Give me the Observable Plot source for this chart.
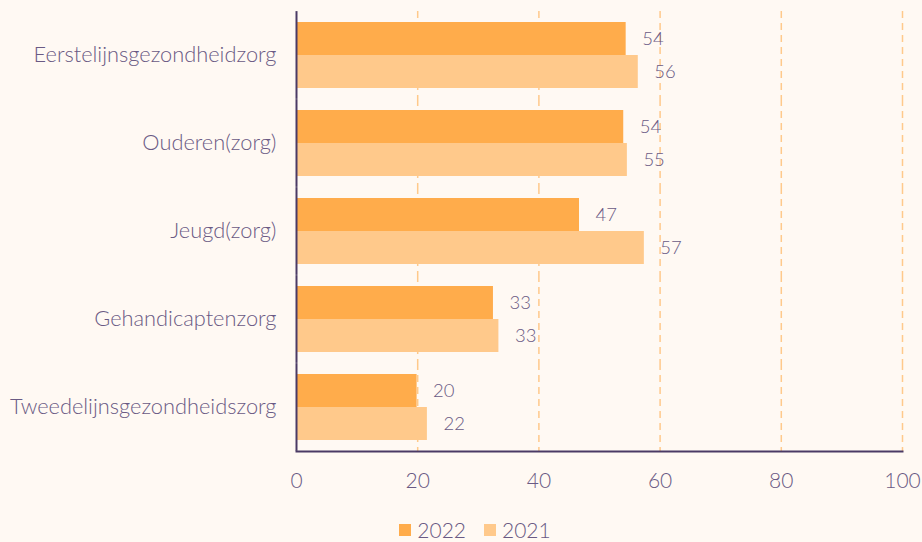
<!DOCTYPE html>
<html><head><meta charset="utf-8">
<script src="https://cdn.jsdelivr.net/npm/d3@7"></script>
<script src="https://cdn.jsdelivr.net/npm/@observablehq/plot@0.6"></script>
<style>
html,body{margin:0;padding:0;background:#fff9f3;font-family:Lato,sans-serif;overflow:hidden;}
#chart svg{display:block;}
#chart svg text{font-weight:300;}
#legend{display:flex;justify-content:center;align-items:center;gap:18px;margin-top:19px;padding-left:28px;font-size:21px;line-height:22px;height:22px;font-weight:300;color:#6a5a84;}
#legend .item{display:flex;align-items:center;gap:6px;}
#legend .sw{width:12px;height:12px;display:inline-block;}
</style></head><body><div id="chart"></div><div id="legend"></div>
<script>
const categories = ["Eerstelijnsgezondheidzorg","Ouderen(zorg)","Jeugd(zorg)","Gehandicaptenzorg","Tweedelijnsgezondheidszorg"];
const years = ["2022","2021"];
const values2022 = [54.4, 54.0, 46.7, 32.5, 19.9];
const values2021 = [56.4, 54.6, 57.4, 33.4, 21.6];
const xTicks = [0, 20, 40, 60, 80, 100];
const colors = ["#ffac4b", "#ffc98b"];
const textColor = "#6a5a84";
const axisColor = "#4b3a65";

const data = categories.flatMap((c, i) => [
  {category: c, year: "2022", value: values2022[i]},
  {category: c, year: "2021", value: values2021[i]}
]);

const gapHalf = -10.9;

const plot = Plot.plot({
  width: 922, height: 500,
  marginLeft: 296, marginRight: 20, marginTop: 10, marginBottom: 47,
  style: {background: "transparent", fontFamily: "Lato, sans-serif", color: textColor},
  x: {domain: [0, 100], ticks: xTicks},
  y: {domain: years, padding: 0, axis: null},
  fy: {domain: categories, paddingInner: 0.245, paddingOuter: 0.12},
  color: {domain: years, range: colors},
  marks: [
    Plot.ruleX(xTicks.slice(1), {stroke: "#ffc98b", strokeWidth: 1.5, strokeDasharray: "7,5", insetTop: gapHalf, insetBottom: gapHalf}),
    Plot.barX(data, {fy: "category", y: "year", x: "value", fill: "year"}),
    Plot.text(data, {fy: "category", y: "year", x: "value", text: d => Math.round(d.value), dx: 16, textAnchor: "start", fontSize: 18.5, fill: textColor}),
    Plot.axisFy({anchor: "left", tickSize: 0, tickPadding: 20, fontSize: 21.8, label: null, fill: textColor}),
    Plot.axisX({anchor: "bottom", tickSize: 0, tickPadding: 33, fontSize: 21, label: null, ticks: xTicks, fill: textColor}),
    Plot.ruleX([0], {stroke: axisColor, strokeWidth: 2, insetTop: gapHalf, insetBottom: gapHalf}),
    Plot.frame({anchor: "bottom", facetAnchor: "bottom", stroke: axisColor, strokeWidth: 2, insetBottom: gapHalf})
  ]
});
document.getElementById("chart").appendChild(plot);

const legend = d3.select("#legend");
years.forEach((y, i) => {
  const it = legend.append("div").attr("class", "item");
  it.append("span").attr("class", "sw").style("background", colors[i]);
  it.append("span").text(y);
});
</script>
</body></html>
